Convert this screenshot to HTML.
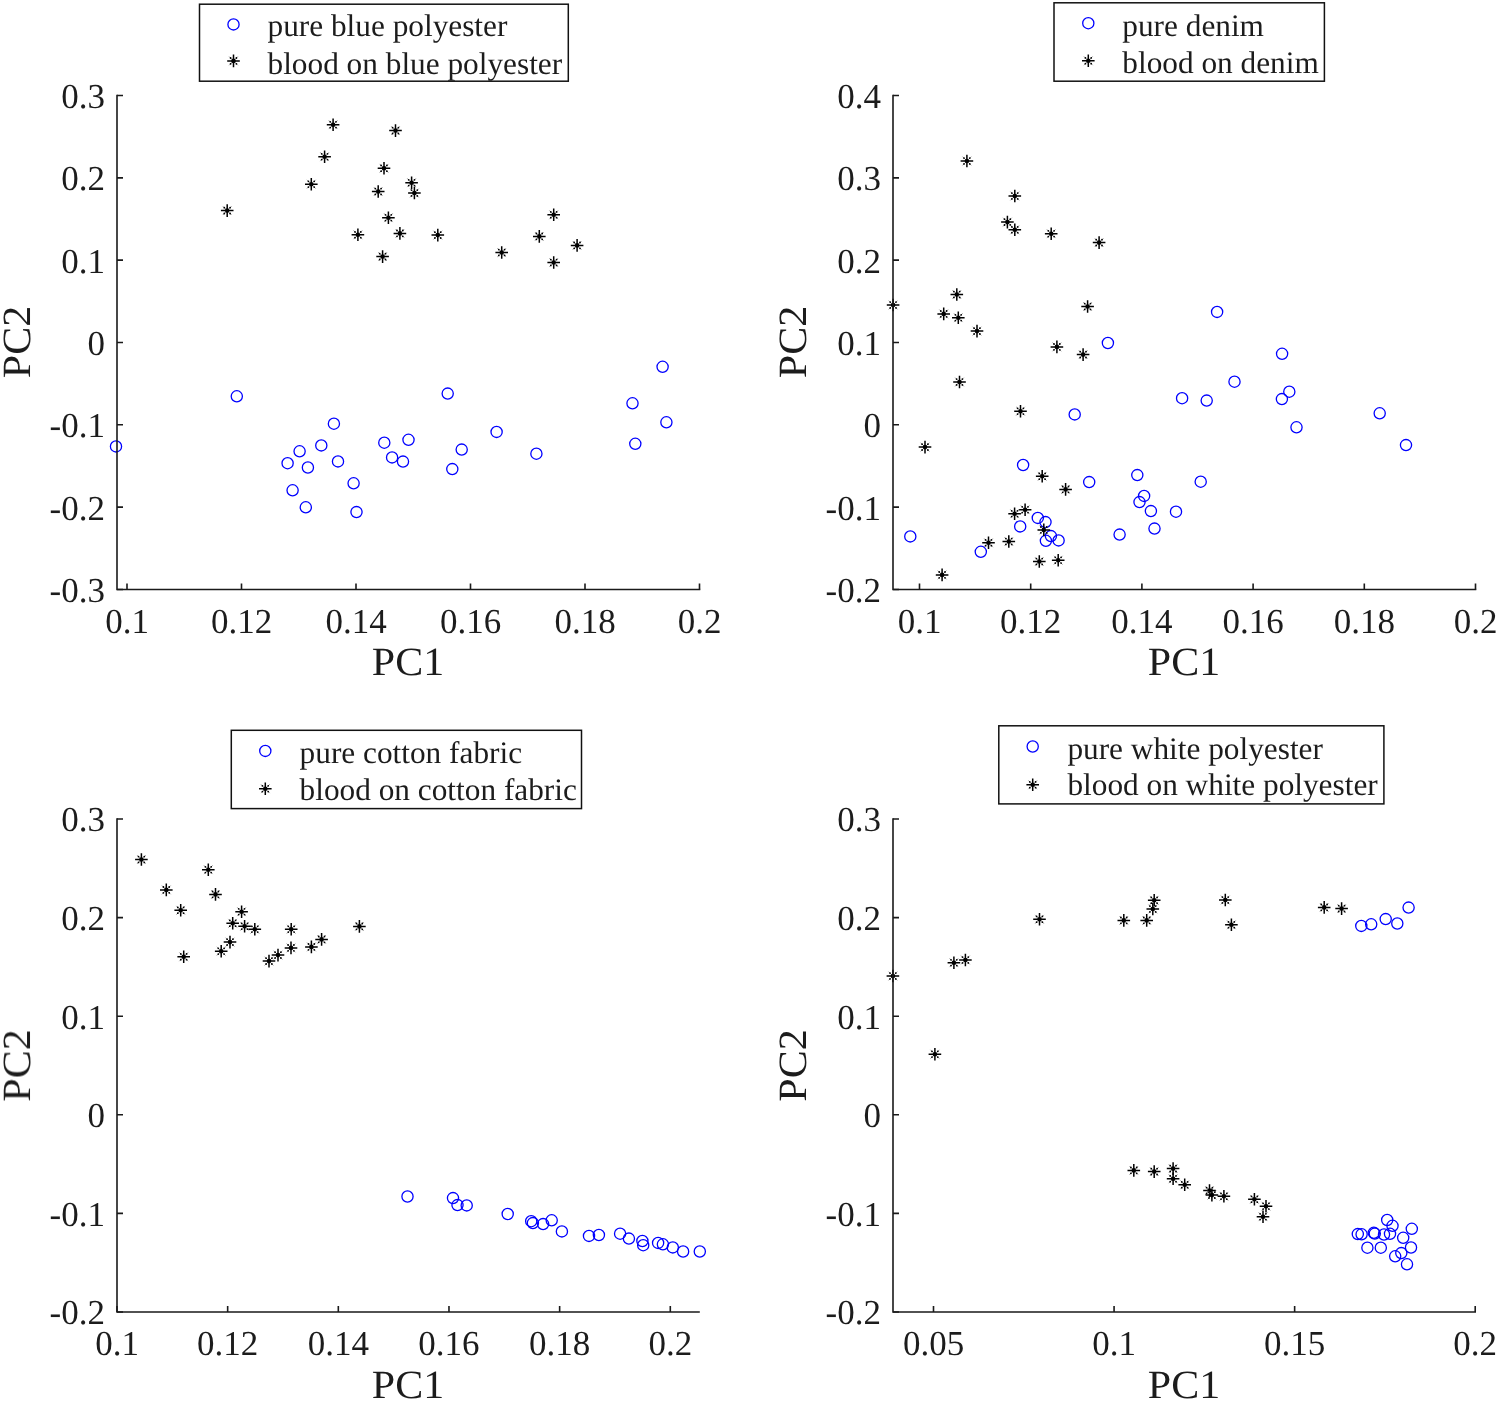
<!DOCTYPE html><html><head><meta charset="utf-8"><title>PCA scatter plots</title><style>html,body{margin:0;padding:0;background:#fff;width:1498px;height:1402px;overflow:hidden}svg{display:block}text{font-family:'Liberation Serif', serif;fill:#1c1c1c;text-rendering:geometricPrecision} .tx{filter:grayscale(1)}.t{font-size:35px} .l{font-size:42px} .g{font-size:31.3px}.ax{stroke:#1a1a1a;stroke-width:1.6;fill:none;stroke-linecap:square}.tk{stroke:#1a1a1a;stroke-width:1.6;fill:none}.c{fill:none;stroke:#0000ff;stroke-width:1.3}.sp{stroke:#000;stroke-width:1.5;fill:none}.sd{stroke:#8a8a8a;stroke-width:0.8;fill:none}.sq{stroke:#000;stroke-width:1.8;fill:none;stroke-linecap:round}.lb{fill:#fff;stroke:#111;stroke-width:1.5}</style></head><body>
<svg width="1498" height="1402" viewBox="0 0 1498 1402">
<rect width="1498" height="1402" fill="#fff"/>
<circle cx="236.80" cy="396.30" r="5.6" class="c"/><circle cx="116.00" cy="446.40" r="5.6" class="c"/><circle cx="333.90" cy="423.70" r="5.6" class="c"/><circle cx="321.30" cy="445.40" r="5.6" class="c"/><circle cx="299.60" cy="451.30" r="5.6" class="c"/><circle cx="287.60" cy="463.20" r="5.6" class="c"/><circle cx="307.90" cy="467.50" r="5.6" class="c"/><circle cx="338.00" cy="461.40" r="5.6" class="c"/><circle cx="292.60" cy="490.30" r="5.6" class="c"/><circle cx="353.60" cy="483.30" r="5.6" class="c"/><circle cx="305.80" cy="507.30" r="5.6" class="c"/><circle cx="356.50" cy="512.10" r="5.6" class="c"/><circle cx="384.30" cy="442.70" r="5.6" class="c"/><circle cx="408.50" cy="439.80" r="5.6" class="c"/><circle cx="392.10" cy="457.40" r="5.6" class="c"/><circle cx="403.00" cy="461.60" r="5.6" class="c"/><circle cx="447.70" cy="393.60" r="5.6" class="c"/><circle cx="496.60" cy="431.90" r="5.6" class="c"/><circle cx="461.70" cy="449.60" r="5.6" class="c"/><circle cx="452.30" cy="469.10" r="5.6" class="c"/><circle cx="536.40" cy="453.70" r="5.6" class="c"/><circle cx="662.60" cy="366.80" r="5.6" class="c"/><circle cx="632.50" cy="403.30" r="5.6" class="c"/><circle cx="666.40" cy="422.30" r="5.6" class="c"/><circle cx="635.30" cy="443.80" r="5.6" class="c"/><path d="M326.80 124.70H339.40M333.10 118.40V131.00" class="sp"/><path d="M328.70 120.30L331.70 123.30M334.50 126.10L337.50 129.10M328.70 129.10L331.70 126.10M334.50 123.30L337.50 120.30" class="sd"/><path d="M330.20 121.80h0M336.00 127.60h0M330.20 127.60h0M336.00 121.80h0" class="sq"/><circle cx="333.10" cy="124.70" r="2.3" fill="#000"/><path d="M389.20 130.60H401.80M395.50 124.30V136.90" class="sp"/><path d="M391.10 126.20L394.10 129.20M396.90 132.00L399.90 135.00M391.10 135.00L394.10 132.00M396.90 129.20L399.90 126.20" class="sd"/><path d="M392.60 127.70h0M398.40 133.50h0M392.60 133.50h0M398.40 127.70h0" class="sq"/><circle cx="395.50" cy="130.60" r="2.3" fill="#000"/><path d="M318.30 156.70H330.90M324.60 150.40V163.00" class="sp"/><path d="M320.20 152.30L323.20 155.30M326.00 158.10L329.00 161.10M320.20 161.10L323.20 158.10M326.00 155.30L329.00 152.30" class="sd"/><path d="M321.70 153.80h0M327.50 159.60h0M321.70 159.60h0M327.50 153.80h0" class="sq"/><circle cx="324.60" cy="156.70" r="2.3" fill="#000"/><path d="M377.70 168.30H390.30M384.00 162.00V174.60" class="sp"/><path d="M379.60 163.90L382.60 166.90M385.40 169.70L388.40 172.70M379.60 172.70L382.60 169.70M385.40 166.90L388.40 163.90" class="sd"/><path d="M381.10 165.40h0M386.90 171.20h0M381.10 171.20h0M386.90 165.40h0" class="sq"/><circle cx="384.00" cy="168.30" r="2.3" fill="#000"/><path d="M305.00 184.20H317.60M311.30 177.90V190.50" class="sp"/><path d="M306.90 179.80L309.90 182.80M312.70 185.60L315.70 188.60M306.90 188.60L309.90 185.60M312.70 182.80L315.70 179.80" class="sd"/><path d="M308.40 181.30h0M314.20 187.10h0M308.40 187.10h0M314.20 181.30h0" class="sq"/><circle cx="311.30" cy="184.20" r="2.3" fill="#000"/><path d="M405.30 182.70H417.90M411.60 176.40V189.00" class="sp"/><path d="M407.20 178.30L410.20 181.30M413.00 184.10L416.00 187.10M407.20 187.10L410.20 184.10M413.00 181.30L416.00 178.30" class="sd"/><path d="M408.70 179.80h0M414.50 185.60h0M408.70 185.60h0M414.50 179.80h0" class="sq"/><circle cx="411.60" cy="182.70" r="2.3" fill="#000"/><path d="M371.90 191.50H384.50M378.20 185.20V197.80" class="sp"/><path d="M373.80 187.10L376.80 190.10M379.60 192.90L382.60 195.90M373.80 195.90L376.80 192.90M379.60 190.10L382.60 187.10" class="sd"/><path d="M375.30 188.60h0M381.10 194.40h0M375.30 194.40h0M381.10 188.60h0" class="sq"/><circle cx="378.20" cy="191.50" r="2.3" fill="#000"/><path d="M408.10 193.00H420.70M414.40 186.70V199.30" class="sp"/><path d="M410.00 188.60L413.00 191.60M415.80 194.40L418.80 197.40M410.00 197.40L413.00 194.40M415.80 191.60L418.80 188.60" class="sd"/><path d="M411.50 190.10h0M417.30 195.90h0M411.50 195.90h0M417.30 190.10h0" class="sq"/><circle cx="414.40" cy="193.00" r="2.3" fill="#000"/><path d="M220.90 210.60H233.50M227.20 204.30V216.90" class="sp"/><path d="M222.80 206.20L225.80 209.20M228.60 212.00L231.60 215.00M222.80 215.00L225.80 212.00M228.60 209.20L231.60 206.20" class="sd"/><path d="M224.30 207.70h0M230.10 213.50h0M224.30 213.50h0M230.10 207.70h0" class="sq"/><circle cx="227.20" cy="210.60" r="2.3" fill="#000"/><path d="M382.10 217.70H394.70M388.40 211.40V224.00" class="sp"/><path d="M384.00 213.30L387.00 216.30M389.80 219.10L392.80 222.10M384.00 222.10L387.00 219.10M389.80 216.30L392.80 213.30" class="sd"/><path d="M385.50 214.80h0M391.30 220.60h0M385.50 220.60h0M391.30 214.80h0" class="sq"/><circle cx="388.40" cy="217.70" r="2.3" fill="#000"/><path d="M351.60 234.80H364.20M357.90 228.50V241.10" class="sp"/><path d="M353.50 230.40L356.50 233.40M359.30 236.20L362.30 239.20M353.50 239.20L356.50 236.20M359.30 233.40L362.30 230.40" class="sd"/><path d="M355.00 231.90h0M360.80 237.70h0M355.00 237.70h0M360.80 231.90h0" class="sq"/><circle cx="357.90" cy="234.80" r="2.3" fill="#000"/><path d="M393.60 233.40H406.20M399.90 227.10V239.70" class="sp"/><path d="M395.50 229.00L398.50 232.00M401.30 234.80L404.30 237.80M395.50 237.80L398.50 234.80M401.30 232.00L404.30 229.00" class="sd"/><path d="M397.00 230.50h0M402.80 236.30h0M397.00 236.30h0M402.80 230.50h0" class="sq"/><circle cx="399.90" cy="233.40" r="2.3" fill="#000"/><path d="M376.30 256.60H388.90M382.60 250.30V262.90" class="sp"/><path d="M378.20 252.20L381.20 255.20M384.00 258.00L387.00 261.00M378.20 261.00L381.20 258.00M384.00 255.20L387.00 252.20" class="sd"/><path d="M379.70 253.70h0M385.50 259.50h0M379.70 259.50h0M385.50 253.70h0" class="sq"/><circle cx="382.60" cy="256.60" r="2.3" fill="#000"/><path d="M431.50 235.10H444.10M437.80 228.80V241.40" class="sp"/><path d="M433.40 230.70L436.40 233.70M439.20 236.50L442.20 239.50M433.40 239.50L436.40 236.50M439.20 233.70L442.20 230.70" class="sd"/><path d="M434.90 232.20h0M440.70 238.00h0M434.90 238.00h0M440.70 232.20h0" class="sq"/><circle cx="437.80" cy="235.10" r="2.3" fill="#000"/><path d="M495.40 252.50H508.00M501.70 246.20V258.80" class="sp"/><path d="M497.30 248.10L500.30 251.10M503.10 253.90L506.10 256.90M497.30 256.90L500.30 253.90M503.10 251.10L506.10 248.10" class="sd"/><path d="M498.80 249.60h0M504.60 255.40h0M498.80 255.40h0M504.60 249.60h0" class="sq"/><circle cx="501.70" cy="252.50" r="2.3" fill="#000"/><path d="M547.40 214.80H560.00M553.70 208.50V221.10" class="sp"/><path d="M549.30 210.40L552.30 213.40M555.10 216.20L558.10 219.20M549.30 219.20L552.30 216.20M555.10 213.40L558.10 210.40" class="sd"/><path d="M550.80 211.90h0M556.60 217.70h0M550.80 217.70h0M556.60 211.90h0" class="sq"/><circle cx="553.70" cy="214.80" r="2.3" fill="#000"/><path d="M533.00 236.40H545.60M539.30 230.10V242.70" class="sp"/><path d="M534.90 232.00L537.90 235.00M540.70 237.80L543.70 240.80M534.90 240.80L537.90 237.80M540.70 235.00L543.70 232.00" class="sd"/><path d="M536.40 233.50h0M542.20 239.30h0M536.40 239.30h0M542.20 233.50h0" class="sq"/><circle cx="539.30" cy="236.40" r="2.3" fill="#000"/><path d="M570.80 245.40H583.40M577.10 239.10V251.70" class="sp"/><path d="M572.70 241.00L575.70 244.00M578.50 246.80L581.50 249.80M572.70 249.80L575.70 246.80M578.50 244.00L581.50 241.00" class="sd"/><path d="M574.20 242.50h0M580.00 248.30h0M574.20 248.30h0M580.00 242.50h0" class="sq"/><circle cx="577.10" cy="245.40" r="2.3" fill="#000"/><path d="M547.40 262.50H560.00M553.70 256.20V268.80" class="sp"/><path d="M549.30 258.10L552.30 261.10M555.10 263.90L558.10 266.90M549.30 266.90L552.30 263.90M555.10 261.10L558.10 258.10" class="sd"/><path d="M550.80 259.60h0M556.60 265.40h0M550.80 265.40h0M556.60 259.60h0" class="sq"/><circle cx="553.70" cy="262.50" r="2.3" fill="#000"/>
<path class="ax" d="M117 95.5V589.5H699.5"/>
<path class="tk" d="M127.00 589.5V583.5M241.50 589.5V583.5M356.00 589.5V583.5M470.50 589.5V583.5M585.00 589.5V583.5M699.50 589.5V583.5M117 95.50H123.0M117 177.83H123.0M117 260.16H123.0M117 342.49H123.0M117 424.82H123.0M117 507.15H123.0M117 589.48H123.0"/>
<rect class="lb" x="199.5" y="4.2" width="368.80" height="77.00"/>
<circle cx="233.5" cy="24.4" r="5.6" class="c"/>
<path d="M227.20 60.90H239.80M233.50 54.60V67.20" class="sp"/><path d="M229.10 56.50L232.10 59.50M234.90 62.30L237.90 65.30M229.10 65.30L232.10 62.30M234.90 59.50L237.90 56.50" class="sd"/><path d="M230.60 58.00h0M236.40 63.80h0M230.60 63.80h0M236.40 58.00h0" class="sq"/><circle cx="233.50" cy="60.90" r="2.3" fill="#000"/>
<circle cx="1074.70" cy="414.40" r="5.6" class="c"/><circle cx="1217.10" cy="311.90" r="5.6" class="c"/><circle cx="1107.90" cy="343.00" r="5.6" class="c"/><circle cx="1282.10" cy="353.80" r="5.6" class="c"/><circle cx="1234.50" cy="381.70" r="5.6" class="c"/><circle cx="1182.10" cy="398.20" r="5.6" class="c"/><circle cx="1206.70" cy="400.60" r="5.6" class="c"/><circle cx="1289.30" cy="391.70" r="5.6" class="c"/><circle cx="1281.90" cy="399.10" r="5.6" class="c"/><circle cx="1296.50" cy="427.30" r="5.6" class="c"/><circle cx="1379.70" cy="413.30" r="5.6" class="c"/><circle cx="1406.00" cy="445.10" r="5.6" class="c"/><circle cx="1023.10" cy="465.00" r="5.6" class="c"/><circle cx="1037.80" cy="517.90" r="5.6" class="c"/><circle cx="1045.50" cy="522.10" r="5.6" class="c"/><circle cx="1020.20" cy="526.40" r="5.6" class="c"/><circle cx="1050.90" cy="536.10" r="5.6" class="c"/><circle cx="1045.90" cy="540.80" r="5.6" class="c"/><circle cx="1058.60" cy="540.40" r="5.6" class="c"/><circle cx="980.80" cy="551.80" r="5.6" class="c"/><circle cx="910.30" cy="536.40" r="5.6" class="c"/><circle cx="1089.20" cy="482.10" r="5.6" class="c"/><circle cx="1137.30" cy="475.10" r="5.6" class="c"/><circle cx="1200.70" cy="481.70" r="5.6" class="c"/><circle cx="1144.10" cy="495.90" r="5.6" class="c"/><circle cx="1139.50" cy="502.10" r="5.6" class="c"/><circle cx="1150.90" cy="511.10" r="5.6" class="c"/><circle cx="1176.00" cy="511.70" r="5.6" class="c"/><circle cx="1154.50" cy="528.60" r="5.6" class="c"/><circle cx="1119.60" cy="534.60" r="5.6" class="c"/><path d="M960.60 161.00H973.20M966.90 154.70V167.30" class="sp"/><path d="M962.50 156.60L965.50 159.60M968.30 162.40L971.30 165.40M962.50 165.40L965.50 162.40M968.30 159.60L971.30 156.60" class="sd"/><path d="M964.00 158.10h0M969.80 163.90h0M964.00 163.90h0M969.80 158.10h0" class="sq"/><circle cx="966.90" cy="161.00" r="2.3" fill="#000"/><path d="M1008.50 196.00H1021.10M1014.80 189.70V202.30" class="sp"/><path d="M1010.40 191.60L1013.40 194.60M1016.20 197.40L1019.20 200.40M1010.40 200.40L1013.40 197.40M1016.20 194.60L1019.20 191.60" class="sd"/><path d="M1011.90 193.10h0M1017.70 198.90h0M1011.90 198.90h0M1017.70 193.10h0" class="sq"/><circle cx="1014.80" cy="196.00" r="2.3" fill="#000"/><path d="M1001.10 222.10H1013.70M1007.40 215.80V228.40" class="sp"/><path d="M1003.00 217.70L1006.00 220.70M1008.80 223.50L1011.80 226.50M1003.00 226.50L1006.00 223.50M1008.80 220.70L1011.80 217.70" class="sd"/><path d="M1004.50 219.20h0M1010.30 225.00h0M1004.50 225.00h0M1010.30 219.20h0" class="sq"/><circle cx="1007.40" cy="222.10" r="2.3" fill="#000"/><path d="M1008.50 229.80H1021.10M1014.80 223.50V236.10" class="sp"/><path d="M1010.40 225.40L1013.40 228.40M1016.20 231.20L1019.20 234.20M1010.40 234.20L1013.40 231.20M1016.20 228.40L1019.20 225.40" class="sd"/><path d="M1011.90 226.90h0M1017.70 232.70h0M1011.90 232.70h0M1017.70 226.90h0" class="sq"/><circle cx="1014.80" cy="229.80" r="2.3" fill="#000"/><path d="M1044.90 233.70H1057.50M1051.20 227.40V240.00" class="sp"/><path d="M1046.80 229.30L1049.80 232.30M1052.60 235.10L1055.60 238.10M1046.80 238.10L1049.80 235.10M1052.60 232.30L1055.60 229.30" class="sd"/><path d="M1048.30 230.80h0M1054.10 236.60h0M1048.30 236.60h0M1054.10 230.80h0" class="sq"/><circle cx="1051.20" cy="233.70" r="2.3" fill="#000"/><path d="M1092.80 242.60H1105.40M1099.10 236.30V248.90" class="sp"/><path d="M1094.70 238.20L1097.70 241.20M1100.50 244.00L1103.50 247.00M1094.70 247.00L1097.70 244.00M1100.50 241.20L1103.50 238.20" class="sd"/><path d="M1096.20 239.70h0M1102.00 245.50h0M1096.20 245.50h0M1102.00 239.70h0" class="sq"/><circle cx="1099.10" cy="242.60" r="2.3" fill="#000"/><path d="M950.50 294.50H963.10M956.80 288.20V300.80" class="sp"/><path d="M952.40 290.10L955.40 293.10M958.20 295.90L961.20 298.90M952.40 298.90L955.40 295.90M958.20 293.10L961.20 290.10" class="sd"/><path d="M953.90 291.60h0M959.70 297.40h0M953.90 297.40h0M959.70 291.60h0" class="sq"/><circle cx="956.80" cy="294.50" r="2.3" fill="#000"/><path d="M886.80 305.00H899.40M893.10 298.70V311.30" class="sp"/><path d="M888.70 300.60L891.70 303.60M894.50 306.40L897.50 309.40M888.70 309.40L891.70 306.40M894.50 303.60L897.50 300.60" class="sd"/><path d="M890.20 302.10h0M896.00 307.90h0M890.20 307.90h0M896.00 302.10h0" class="sq"/><circle cx="893.10" cy="305.00" r="2.3" fill="#000"/><path d="M937.40 313.90H950.00M943.70 307.60V320.20" class="sp"/><path d="M939.30 309.50L942.30 312.50M945.10 315.30L948.10 318.30M939.30 318.30L942.30 315.30M945.10 312.50L948.10 309.50" class="sd"/><path d="M940.80 311.00h0M946.60 316.80h0M940.80 316.80h0M946.60 311.00h0" class="sq"/><circle cx="943.70" cy="313.90" r="2.3" fill="#000"/><path d="M952.00 317.70H964.60M958.30 311.40V324.00" class="sp"/><path d="M953.90 313.30L956.90 316.30M959.70 319.10L962.70 322.10M953.90 322.10L956.90 319.10M959.70 316.30L962.70 313.30" class="sd"/><path d="M955.40 314.80h0M961.20 320.60h0M955.40 320.60h0M961.20 314.80h0" class="sq"/><circle cx="958.30" cy="317.70" r="2.3" fill="#000"/><path d="M970.70 331.10H983.30M977.00 324.80V337.40" class="sp"/><path d="M972.60 326.70L975.60 329.70M978.40 332.50L981.40 335.50M972.60 335.50L975.60 332.50M978.40 329.70L981.40 326.70" class="sd"/><path d="M974.10 328.20h0M979.90 334.00h0M974.10 334.00h0M979.90 328.20h0" class="sq"/><circle cx="977.00" cy="331.10" r="2.3" fill="#000"/><path d="M1081.30 306.50H1093.90M1087.60 300.20V312.80" class="sp"/><path d="M1083.20 302.10L1086.20 305.10M1089.00 307.90L1092.00 310.90M1083.20 310.90L1086.20 307.90M1089.00 305.10L1092.00 302.10" class="sd"/><path d="M1084.70 303.60h0M1090.50 309.40h0M1084.70 309.40h0M1090.50 303.60h0" class="sq"/><circle cx="1087.60" cy="306.50" r="2.3" fill="#000"/><path d="M1050.60 346.90H1063.20M1056.90 340.60V353.20" class="sp"/><path d="M1052.50 342.50L1055.50 345.50M1058.30 348.30L1061.30 351.30M1052.50 351.30L1055.50 348.30M1058.30 345.50L1061.30 342.50" class="sd"/><path d="M1054.00 344.00h0M1059.80 349.80h0M1054.00 349.80h0M1059.80 344.00h0" class="sq"/><circle cx="1056.90" cy="346.90" r="2.3" fill="#000"/><path d="M1076.80 354.60H1089.40M1083.10 348.30V360.90" class="sp"/><path d="M1078.70 350.20L1081.70 353.20M1084.50 356.00L1087.50 359.00M1078.70 359.00L1081.70 356.00M1084.50 353.20L1087.50 350.20" class="sd"/><path d="M1080.20 351.70h0M1086.00 357.50h0M1080.20 357.50h0M1086.00 351.70h0" class="sq"/><circle cx="1083.10" cy="354.60" r="2.3" fill="#000"/><path d="M953.20 382.00H965.80M959.50 375.70V388.30" class="sp"/><path d="M955.10 377.60L958.10 380.60M960.90 383.40L963.90 386.40M955.10 386.40L958.10 383.40M960.90 380.60L963.90 377.60" class="sd"/><path d="M956.60 379.10h0M962.40 384.90h0M956.60 384.90h0M962.40 379.10h0" class="sq"/><circle cx="959.50" cy="382.00" r="2.3" fill="#000"/><path d="M1014.20 411.20H1026.80M1020.50 404.90V417.50" class="sp"/><path d="M1016.10 406.80L1019.10 409.80M1021.90 412.60L1024.90 415.60M1016.10 415.60L1019.10 412.60M1021.90 409.80L1024.90 406.80" class="sd"/><path d="M1017.60 408.30h0M1023.40 414.10h0M1017.60 414.10h0M1023.40 408.30h0" class="sq"/><circle cx="1020.50" cy="411.20" r="2.3" fill="#000"/><path d="M918.70 447.10H931.30M925.00 440.80V453.40" class="sp"/><path d="M920.60 442.70L923.60 445.70M926.40 448.50L929.40 451.50M920.60 451.50L923.60 448.50M926.40 445.70L929.40 442.70" class="sd"/><path d="M922.10 444.20h0M927.90 450.00h0M922.10 450.00h0M927.90 444.20h0" class="sq"/><circle cx="925.00" cy="447.10" r="2.3" fill="#000"/><path d="M1035.90 476.30H1048.50M1042.20 470.00V482.60" class="sp"/><path d="M1037.80 471.90L1040.80 474.90M1043.60 477.70L1046.60 480.70M1037.80 480.70L1040.80 477.70M1043.60 474.90L1046.60 471.90" class="sd"/><path d="M1039.30 473.40h0M1045.10 479.20h0M1039.30 479.20h0M1045.10 473.40h0" class="sq"/><circle cx="1042.20" cy="476.30" r="2.3" fill="#000"/><path d="M1059.30 489.40H1071.90M1065.60 483.10V495.70" class="sp"/><path d="M1061.20 485.00L1064.20 488.00M1067.00 490.80L1070.00 493.80M1061.20 493.80L1064.20 490.80M1067.00 488.00L1070.00 485.00" class="sd"/><path d="M1062.70 486.50h0M1068.50 492.30h0M1062.70 492.30h0M1068.50 486.50h0" class="sq"/><circle cx="1065.60" cy="489.40" r="2.3" fill="#000"/><path d="M1018.80 509.70H1031.40M1025.10 503.40V516.00" class="sp"/><path d="M1020.70 505.30L1023.70 508.30M1026.50 511.10L1029.50 514.10M1020.70 514.10L1023.70 511.10M1026.50 508.30L1029.50 505.30" class="sd"/><path d="M1022.20 506.80h0M1028.00 512.60h0M1022.20 512.60h0M1028.00 506.80h0" class="sq"/><circle cx="1025.10" cy="509.70" r="2.3" fill="#000"/><path d="M1008.30 513.70H1020.90M1014.60 507.40V520.00" class="sp"/><path d="M1010.20 509.30L1013.20 512.30M1016.00 515.10L1019.00 518.10M1010.20 518.10L1013.20 515.10M1016.00 512.30L1019.00 509.30" class="sd"/><path d="M1011.70 510.80h0M1017.50 516.60h0M1011.70 516.60h0M1017.50 510.80h0" class="sq"/><circle cx="1014.60" cy="513.70" r="2.3" fill="#000"/><path d="M1037.50 529.90H1050.10M1043.80 523.60V536.20" class="sp"/><path d="M1039.40 525.50L1042.40 528.50M1045.20 531.30L1048.20 534.30M1039.40 534.30L1042.40 531.30M1045.20 528.50L1048.20 525.50" class="sd"/><path d="M1040.90 527.00h0M1046.70 532.80h0M1040.90 532.80h0M1046.70 527.00h0" class="sq"/><circle cx="1043.80" cy="529.90" r="2.3" fill="#000"/><path d="M982.20 542.80H994.80M988.50 536.50V549.10" class="sp"/><path d="M984.10 538.40L987.10 541.40M989.90 544.20L992.90 547.20M984.10 547.20L987.10 544.20M989.90 541.40L992.90 538.40" class="sd"/><path d="M985.60 539.90h0M991.40 545.70h0M985.60 545.70h0M991.40 539.90h0" class="sq"/><circle cx="988.50" cy="542.80" r="2.3" fill="#000"/><path d="M1002.50 541.50H1015.10M1008.80 535.20V547.80" class="sp"/><path d="M1004.40 537.10L1007.40 540.10M1010.20 542.90L1013.20 545.90M1004.40 545.90L1007.40 542.90M1010.20 540.10L1013.20 537.10" class="sd"/><path d="M1005.90 538.60h0M1011.70 544.40h0M1005.90 544.40h0M1011.70 538.60h0" class="sq"/><circle cx="1008.80" cy="541.50" r="2.3" fill="#000"/><path d="M1033.00 561.50H1045.60M1039.30 555.20V567.80" class="sp"/><path d="M1034.90 557.10L1037.90 560.10M1040.70 562.90L1043.70 565.90M1034.90 565.90L1037.90 562.90M1040.70 560.10L1043.70 557.10" class="sd"/><path d="M1036.40 558.60h0M1042.20 564.40h0M1036.40 564.40h0M1042.20 558.60h0" class="sq"/><circle cx="1039.30" cy="561.50" r="2.3" fill="#000"/><path d="M1051.90 560.20H1064.50M1058.20 553.90V566.50" class="sp"/><path d="M1053.80 555.80L1056.80 558.80M1059.60 561.60L1062.60 564.60M1053.80 564.60L1056.80 561.60M1059.60 558.80L1062.60 555.80" class="sd"/><path d="M1055.30 557.30h0M1061.10 563.10h0M1055.30 563.10h0M1061.10 557.30h0" class="sq"/><circle cx="1058.20" cy="560.20" r="2.3" fill="#000"/><path d="M935.80 574.90H948.40M942.10 568.60V581.20" class="sp"/><path d="M937.70 570.50L940.70 573.50M943.50 576.30L946.50 579.30M937.70 579.30L940.70 576.30M943.50 573.50L946.50 570.50" class="sd"/><path d="M939.20 572.00h0M945.00 577.80h0M939.20 577.80h0M945.00 572.00h0" class="sq"/><circle cx="942.10" cy="574.90" r="2.3" fill="#000"/>
<path class="ax" d="M893 95.5V589.5H1475.5"/>
<path class="tk" d="M919.50 589.5V583.5M1030.70 589.5V583.5M1141.90 589.5V583.5M1253.10 589.5V583.5M1364.30 589.5V583.5M1475.50 589.5V583.5M893 95.50H899.0M893 177.83H899.0M893 260.16H899.0M893 342.49H899.0M893 424.82H899.0M893 507.15H899.0M893 589.48H899.0"/>
<rect class="lb" x="1054" y="2.8" width="270.40" height="78.40"/>
<circle cx="1088.3" cy="23.2" r="5.6" class="c"/>
<path d="M1082.00 60.80H1094.60M1088.30 54.50V67.10" class="sp"/><path d="M1083.90 56.40L1086.90 59.40M1089.70 62.20L1092.70 65.20M1083.90 65.20L1086.90 62.20M1089.70 59.40L1092.70 56.40" class="sd"/><path d="M1085.40 57.90h0M1091.20 63.70h0M1085.40 63.70h0M1091.20 57.90h0" class="sq"/><circle cx="1088.30" cy="60.80" r="2.3" fill="#000"/>
<circle cx="407.50" cy="1196.50" r="5.6" class="c"/><circle cx="453.00" cy="1198.10" r="5.6" class="c"/><circle cx="457.50" cy="1205.10" r="5.6" class="c"/><circle cx="466.70" cy="1205.40" r="5.6" class="c"/><circle cx="507.70" cy="1214.00" r="5.6" class="c"/><circle cx="531.20" cy="1221.20" r="5.6" class="c"/><circle cx="532.90" cy="1223.10" r="5.6" class="c"/><circle cx="543.10" cy="1224.10" r="5.6" class="c"/><circle cx="551.70" cy="1220.30" r="5.6" class="c"/><circle cx="561.90" cy="1231.40" r="5.6" class="c"/><circle cx="589.00" cy="1235.90" r="5.6" class="c"/><circle cx="598.90" cy="1235.00" r="5.6" class="c"/><circle cx="620.10" cy="1233.70" r="5.6" class="c"/><circle cx="628.90" cy="1238.60" r="5.6" class="c"/><circle cx="642.40" cy="1241.00" r="5.6" class="c"/><circle cx="643.20" cy="1245.20" r="5.6" class="c"/><circle cx="658.10" cy="1242.90" r="5.6" class="c"/><circle cx="662.90" cy="1244.30" r="5.6" class="c"/><circle cx="672.80" cy="1247.40" r="5.6" class="c"/><circle cx="683.10" cy="1251.50" r="5.6" class="c"/><circle cx="699.80" cy="1251.50" r="5.6" class="c"/><path d="M135.10 859.50H147.70M141.40 853.20V865.80" class="sp"/><path d="M137.00 855.10L140.00 858.10M142.80 860.90L145.80 863.90M137.00 863.90L140.00 860.90M142.80 858.10L145.80 855.10" class="sd"/><path d="M138.50 856.60h0M144.30 862.40h0M138.50 862.40h0M144.30 856.60h0" class="sq"/><circle cx="141.40" cy="859.50" r="2.3" fill="#000"/><path d="M202.00 869.70H214.60M208.30 863.40V876.00" class="sp"/><path d="M203.90 865.30L206.90 868.30M209.70 871.10L212.70 874.10M203.90 874.10L206.90 871.10M209.70 868.30L212.70 865.30" class="sd"/><path d="M205.40 866.80h0M211.20 872.60h0M205.40 872.60h0M211.20 866.80h0" class="sq"/><circle cx="208.30" cy="869.70" r="2.3" fill="#000"/><path d="M160.00 889.90H172.60M166.30 883.60V896.20" class="sp"/><path d="M161.90 885.50L164.90 888.50M167.70 891.30L170.70 894.30M161.90 894.30L164.90 891.30M167.70 888.50L170.70 885.50" class="sd"/><path d="M163.40 887.00h0M169.20 892.80h0M163.40 892.80h0M169.20 887.00h0" class="sq"/><circle cx="166.30" cy="889.90" r="2.3" fill="#000"/><path d="M209.20 894.40H221.80M215.50 888.10V900.70" class="sp"/><path d="M211.10 890.00L214.10 893.00M216.90 895.80L219.90 898.80M211.10 898.80L214.10 895.80M216.90 893.00L219.90 890.00" class="sd"/><path d="M212.60 891.50h0M218.40 897.30h0M212.60 897.30h0M218.40 891.50h0" class="sq"/><circle cx="215.50" cy="894.40" r="2.3" fill="#000"/><path d="M174.40 910.30H187.00M180.70 904.00V916.60" class="sp"/><path d="M176.30 905.90L179.30 908.90M182.10 911.70L185.10 914.70M176.30 914.70L179.30 911.70M182.10 908.90L185.10 905.90" class="sd"/><path d="M177.80 907.40h0M183.60 913.20h0M177.80 913.20h0M183.60 907.40h0" class="sq"/><circle cx="180.70" cy="910.30" r="2.3" fill="#000"/><path d="M235.30 911.70H247.90M241.60 905.40V918.00" class="sp"/><path d="M237.20 907.30L240.20 910.30M243.00 913.10L246.00 916.10M237.20 916.10L240.20 913.10M243.00 910.30L246.00 907.30" class="sd"/><path d="M238.70 908.80h0M244.50 914.60h0M238.70 914.60h0M244.50 908.80h0" class="sq"/><circle cx="241.60" cy="911.70" r="2.3" fill="#000"/><path d="M226.40 923.30H239.00M232.70 917.00V929.60" class="sp"/><path d="M228.30 918.90L231.30 921.90M234.10 924.70L237.10 927.70M228.30 927.70L231.30 924.70M234.10 921.90L237.10 918.90" class="sd"/><path d="M229.80 920.40h0M235.60 926.20h0M229.80 926.20h0M235.60 920.40h0" class="sq"/><circle cx="232.70" cy="923.30" r="2.3" fill="#000"/><path d="M238.30 926.30H250.90M244.60 920.00V932.60" class="sp"/><path d="M240.20 921.90L243.20 924.90M246.00 927.70L249.00 930.70M240.20 930.70L243.20 927.70M246.00 924.90L249.00 921.90" class="sd"/><path d="M241.70 923.40h0M247.50 929.20h0M241.70 929.20h0M247.50 923.40h0" class="sq"/><circle cx="244.60" cy="926.30" r="2.3" fill="#000"/><path d="M248.50 929.20H261.10M254.80 922.90V935.50" class="sp"/><path d="M250.40 924.80L253.40 927.80M256.20 930.60L259.20 933.60M250.40 933.60L253.40 930.60M256.20 927.80L259.20 924.80" class="sd"/><path d="M251.90 926.30h0M257.70 932.10h0M251.90 932.10h0M257.70 926.30h0" class="sq"/><circle cx="254.80" cy="929.20" r="2.3" fill="#000"/><path d="M284.90 929.20H297.50M291.20 922.90V935.50" class="sp"/><path d="M286.80 924.80L289.80 927.80M292.60 930.60L295.60 933.60M286.80 933.60L289.80 930.60M292.60 927.80L295.60 924.80" class="sd"/><path d="M288.30 926.30h0M294.10 932.10h0M288.30 932.10h0M294.10 926.30h0" class="sq"/><circle cx="291.20" cy="929.20" r="2.3" fill="#000"/><path d="M223.70 942.10H236.30M230.00 935.80V948.40" class="sp"/><path d="M225.60 937.70L228.60 940.70M231.40 943.50L234.40 946.50M225.60 946.50L228.60 943.50M231.40 940.70L234.40 937.70" class="sd"/><path d="M227.10 939.20h0M232.90 945.00h0M227.10 945.00h0M232.90 939.20h0" class="sq"/><circle cx="230.00" cy="942.10" r="2.3" fill="#000"/><path d="M214.90 951.20H227.50M221.20 944.90V957.50" class="sp"/><path d="M216.80 946.80L219.80 949.80M222.60 952.60L225.60 955.60M216.80 955.60L219.80 952.60M222.60 949.80L225.60 946.80" class="sd"/><path d="M218.30 948.30h0M224.10 954.10h0M218.30 954.10h0M224.10 948.30h0" class="sq"/><circle cx="221.20" cy="951.20" r="2.3" fill="#000"/><path d="M284.70 947.90H297.30M291.00 941.60V954.20" class="sp"/><path d="M286.60 943.50L289.60 946.50M292.40 949.30L295.40 952.30M286.60 952.30L289.60 949.30M292.40 946.50L295.40 943.50" class="sd"/><path d="M288.10 945.00h0M293.90 950.80h0M288.10 950.80h0M293.90 945.00h0" class="sq"/><circle cx="291.00" cy="947.90" r="2.3" fill="#000"/><path d="M271.70 955.10H284.30M278.00 948.80V961.40" class="sp"/><path d="M273.60 950.70L276.60 953.70M279.40 956.50L282.40 959.50M273.60 959.50L276.60 956.50M279.40 953.70L282.40 950.70" class="sd"/><path d="M275.10 952.20h0M280.90 958.00h0M275.10 958.00h0M280.90 952.20h0" class="sq"/><circle cx="278.00" cy="955.10" r="2.3" fill="#000"/><path d="M262.70 961.10H275.30M269.00 954.80V967.40" class="sp"/><path d="M264.60 956.70L267.60 959.70M270.40 962.50L273.40 965.50M264.60 965.50L267.60 962.50M270.40 959.70L273.40 956.70" class="sd"/><path d="M266.10 958.20h0M271.90 964.00h0M266.10 964.00h0M271.90 958.20h0" class="sq"/><circle cx="269.00" cy="961.10" r="2.3" fill="#000"/><path d="M177.40 956.80H190.00M183.70 950.50V963.10" class="sp"/><path d="M179.30 952.40L182.30 955.40M185.10 958.20L188.10 961.20M179.30 961.20L182.30 958.20M185.10 955.40L188.10 952.40" class="sd"/><path d="M180.80 953.90h0M186.60 959.70h0M180.80 959.70h0M186.60 953.90h0" class="sq"/><circle cx="183.70" cy="956.80" r="2.3" fill="#000"/><path d="M305.10 946.90H317.70M311.40 940.60V953.20" class="sp"/><path d="M307.00 942.50L310.00 945.50M312.80 948.30L315.80 951.30M307.00 951.30L310.00 948.30M312.80 945.50L315.80 942.50" class="sd"/><path d="M308.50 944.00h0M314.30 949.80h0M308.50 949.80h0M314.30 944.00h0" class="sq"/><circle cx="311.40" cy="946.90" r="2.3" fill="#000"/><path d="M315.30 939.40H327.90M321.60 933.10V945.70" class="sp"/><path d="M317.20 935.00L320.20 938.00M323.00 940.80L326.00 943.80M317.20 943.80L320.20 940.80M323.00 938.00L326.00 935.00" class="sd"/><path d="M318.70 936.50h0M324.50 942.30h0M318.70 942.30h0M324.50 936.50h0" class="sq"/><circle cx="321.60" cy="939.40" r="2.3" fill="#000"/><path d="M353.10 926.40H365.70M359.40 920.10V932.70" class="sp"/><path d="M355.00 922.00L358.00 925.00M360.80 927.80L363.80 930.80M355.00 930.80L358.00 927.80M360.80 925.00L363.80 922.00" class="sd"/><path d="M356.50 923.50h0M362.30 929.30h0M356.50 929.30h0M362.30 923.50h0" class="sq"/><circle cx="359.40" cy="926.40" r="2.3" fill="#000"/>
<path class="ax" d="M117 819V1312H699"/>
<path class="tk" d="M117.00 1312V1306.0M227.66 1312V1306.0M338.32 1312V1306.0M448.98 1312V1306.0M559.64 1312V1306.0M670.30 1312V1306.0M117 819.00H123.0M117 917.60H123.0M117 1016.20H123.0M117 1114.80H123.0M117 1213.40H123.0M117 1312.00H123.0"/>
<rect class="lb" x="231.3" y="730.3" width="350.20" height="78.30"/>
<circle cx="265.3" cy="750.9" r="5.6" class="c"/>
<path d="M259.00 788.70H271.60M265.30 782.40V795.00" class="sp"/><path d="M260.90 784.30L263.90 787.30M266.70 790.10L269.70 793.10M260.90 793.10L263.90 790.10M266.70 787.30L269.70 784.30" class="sd"/><path d="M262.40 785.80h0M268.20 791.60h0M262.40 791.60h0M268.20 785.80h0" class="sq"/><circle cx="265.30" cy="788.70" r="2.3" fill="#000"/>
<circle cx="1361.30" cy="925.90" r="5.6" class="c"/><circle cx="1371.20" cy="924.30" r="5.6" class="c"/><circle cx="1385.70" cy="919.10" r="5.6" class="c"/><circle cx="1397.30" cy="923.50" r="5.6" class="c"/><circle cx="1408.60" cy="907.60" r="5.6" class="c"/><circle cx="1357.80" cy="1234.10" r="5.6" class="c"/><circle cx="1361.60" cy="1234.30" r="5.6" class="c"/><circle cx="1373.80" cy="1232.80" r="5.6" class="c"/><circle cx="1374.80" cy="1233.60" r="5.6" class="c"/><circle cx="1387.20" cy="1220.00" r="5.6" class="c"/><circle cx="1392.50" cy="1225.80" r="5.6" class="c"/><circle cx="1390.00" cy="1233.80" r="5.6" class="c"/><circle cx="1384.00" cy="1234.50" r="5.6" class="c"/><circle cx="1411.80" cy="1228.80" r="5.6" class="c"/><circle cx="1403.20" cy="1237.80" r="5.6" class="c"/><circle cx="1411.00" cy="1247.50" r="5.6" class="c"/><circle cx="1367.40" cy="1247.70" r="5.6" class="c"/><circle cx="1380.80" cy="1247.70" r="5.6" class="c"/><circle cx="1395.20" cy="1256.30" r="5.6" class="c"/><circle cx="1401.30" cy="1253.10" r="5.6" class="c"/><circle cx="1407.00" cy="1264.30" r="5.6" class="c"/><path d="M1033.20 919.30H1045.80M1039.50 913.00V925.60" class="sp"/><path d="M1035.10 914.90L1038.10 917.90M1040.90 920.70L1043.90 923.70M1035.10 923.70L1038.10 920.70M1040.90 917.90L1043.90 914.90" class="sd"/><path d="M1036.60 916.40h0M1042.40 922.20h0M1036.60 922.20h0M1042.40 916.40h0" class="sq"/><circle cx="1039.50" cy="919.30" r="2.3" fill="#000"/><path d="M947.60 962.70H960.20M953.90 956.40V969.00" class="sp"/><path d="M949.50 958.30L952.50 961.30M955.30 964.10L958.30 967.10M949.50 967.10L952.50 964.10M955.30 961.30L958.30 958.30" class="sd"/><path d="M951.00 959.80h0M956.80 965.60h0M951.00 965.60h0M956.80 959.80h0" class="sq"/><circle cx="953.90" cy="962.70" r="2.3" fill="#000"/><path d="M959.10 960.00H971.70M965.40 953.70V966.30" class="sp"/><path d="M961.00 955.60L964.00 958.60M966.80 961.40L969.80 964.40M961.00 964.40L964.00 961.40M966.80 958.60L969.80 955.60" class="sd"/><path d="M962.50 957.10h0M968.30 962.90h0M962.50 962.90h0M968.30 957.10h0" class="sq"/><circle cx="965.40" cy="960.00" r="2.3" fill="#000"/><path d="M886.60 976.00H899.20M892.90 969.70V982.30" class="sp"/><path d="M888.50 971.60L891.50 974.60M894.30 977.40L897.30 980.40M888.50 980.40L891.50 977.40M894.30 974.60L897.30 971.60" class="sd"/><path d="M890.00 973.10h0M895.80 978.90h0M890.00 978.90h0M895.80 973.10h0" class="sq"/><circle cx="892.90" cy="976.00" r="2.3" fill="#000"/><path d="M928.60 1054.20H941.20M934.90 1047.90V1060.50" class="sp"/><path d="M930.50 1049.80L933.50 1052.80M936.30 1055.60L939.30 1058.60M930.50 1058.60L933.50 1055.60M936.30 1052.80L939.30 1049.80" class="sd"/><path d="M932.00 1051.30h0M937.80 1057.10h0M932.00 1057.10h0M937.80 1051.30h0" class="sq"/><circle cx="934.90" cy="1054.20" r="2.3" fill="#000"/><path d="M1117.50 920.40H1130.10M1123.80 914.10V926.70" class="sp"/><path d="M1119.40 916.00L1122.40 919.00M1125.20 921.80L1128.20 924.80M1119.40 924.80L1122.40 921.80M1125.20 919.00L1128.20 916.00" class="sd"/><path d="M1120.90 917.50h0M1126.70 923.30h0M1120.90 923.30h0M1126.70 917.50h0" class="sq"/><circle cx="1123.80" cy="920.40" r="2.3" fill="#000"/><path d="M1140.40 920.40H1153.00M1146.70 914.10V926.70" class="sp"/><path d="M1142.30 916.00L1145.30 919.00M1148.10 921.80L1151.10 924.80M1142.30 924.80L1145.30 921.80M1148.10 919.00L1151.10 916.00" class="sd"/><path d="M1143.80 917.50h0M1149.60 923.30h0M1143.80 923.30h0M1149.60 917.50h0" class="sq"/><circle cx="1146.70" cy="920.40" r="2.3" fill="#000"/><path d="M1147.90 900.30H1160.50M1154.20 894.00V906.60" class="sp"/><path d="M1149.80 895.90L1152.80 898.90M1155.60 901.70L1158.60 904.70M1149.80 904.70L1152.80 901.70M1155.60 898.90L1158.60 895.90" class="sd"/><path d="M1151.30 897.40h0M1157.10 903.20h0M1151.30 903.20h0M1157.10 897.40h0" class="sq"/><circle cx="1154.20" cy="900.30" r="2.3" fill="#000"/><path d="M1146.50 909.00H1159.10M1152.80 902.70V915.30" class="sp"/><path d="M1148.40 904.60L1151.40 907.60M1154.20 910.40L1157.20 913.40M1148.40 913.40L1151.40 910.40M1154.20 907.60L1157.20 904.60" class="sd"/><path d="M1149.90 906.10h0M1155.70 911.90h0M1149.90 911.90h0M1155.70 906.10h0" class="sq"/><circle cx="1152.80" cy="909.00" r="2.3" fill="#000"/><path d="M1219.00 900.00H1231.60M1225.30 893.70V906.30" class="sp"/><path d="M1220.90 895.60L1223.90 898.60M1226.70 901.40L1229.70 904.40M1220.90 904.40L1223.90 901.40M1226.70 898.60L1229.70 895.60" class="sd"/><path d="M1222.40 897.10h0M1228.20 902.90h0M1222.40 902.90h0M1228.20 897.10h0" class="sq"/><circle cx="1225.30" cy="900.00" r="2.3" fill="#000"/><path d="M1225.10 924.80H1237.70M1231.40 918.50V931.10" class="sp"/><path d="M1227.00 920.40L1230.00 923.40M1232.80 926.20L1235.80 929.20M1227.00 929.20L1230.00 926.20M1232.80 923.40L1235.80 920.40" class="sd"/><path d="M1228.50 921.90h0M1234.30 927.70h0M1228.50 927.70h0M1234.30 921.90h0" class="sq"/><circle cx="1231.40" cy="924.80" r="2.3" fill="#000"/><path d="M1317.90 907.40H1330.50M1324.20 901.10V913.70" class="sp"/><path d="M1319.80 903.00L1322.80 906.00M1325.60 908.80L1328.60 911.80M1319.80 911.80L1322.80 908.80M1325.60 906.00L1328.60 903.00" class="sd"/><path d="M1321.30 904.50h0M1327.10 910.30h0M1321.30 910.30h0M1327.10 904.50h0" class="sq"/><circle cx="1324.20" cy="907.40" r="2.3" fill="#000"/><path d="M1335.30 908.60H1347.90M1341.60 902.30V914.90" class="sp"/><path d="M1337.20 904.20L1340.20 907.20M1343.00 910.00L1346.00 913.00M1337.20 913.00L1340.20 910.00M1343.00 907.20L1346.00 904.20" class="sd"/><path d="M1338.70 905.70h0M1344.50 911.50h0M1338.70 911.50h0M1344.50 905.70h0" class="sq"/><circle cx="1341.60" cy="908.60" r="2.3" fill="#000"/><path d="M1127.50 1170.40H1140.10M1133.80 1164.10V1176.70" class="sp"/><path d="M1129.40 1166.00L1132.40 1169.00M1135.20 1171.80L1138.20 1174.80M1129.40 1174.80L1132.40 1171.80M1135.20 1169.00L1138.20 1166.00" class="sd"/><path d="M1130.90 1167.50h0M1136.70 1173.30h0M1130.90 1173.30h0M1136.70 1167.50h0" class="sq"/><circle cx="1133.80" cy="1170.40" r="2.3" fill="#000"/><path d="M1147.90 1171.60H1160.50M1154.20 1165.30V1177.90" class="sp"/><path d="M1149.80 1167.20L1152.80 1170.20M1155.60 1173.00L1158.60 1176.00M1149.80 1176.00L1152.80 1173.00M1155.60 1170.20L1158.60 1167.20" class="sd"/><path d="M1151.30 1168.70h0M1157.10 1174.50h0M1151.30 1174.50h0M1157.10 1168.70h0" class="sq"/><circle cx="1154.20" cy="1171.60" r="2.3" fill="#000"/><path d="M1166.80 1168.60H1179.40M1173.10 1162.30V1174.90" class="sp"/><path d="M1168.70 1164.20L1171.70 1167.20M1174.50 1170.00L1177.50 1173.00M1168.70 1173.00L1171.70 1170.00M1174.50 1167.20L1177.50 1164.20" class="sd"/><path d="M1170.20 1165.70h0M1176.00 1171.50h0M1170.20 1171.50h0M1176.00 1165.70h0" class="sq"/><circle cx="1173.10" cy="1168.60" r="2.3" fill="#000"/><path d="M1166.80 1178.80H1179.40M1173.10 1172.50V1185.10" class="sp"/><path d="M1168.70 1174.40L1171.70 1177.40M1174.50 1180.20L1177.50 1183.20M1168.70 1183.20L1171.70 1180.20M1174.50 1177.40L1177.50 1174.40" class="sd"/><path d="M1170.20 1175.90h0M1176.00 1181.70h0M1170.20 1181.70h0M1176.00 1175.90h0" class="sq"/><circle cx="1173.10" cy="1178.80" r="2.3" fill="#000"/><path d="M1178.40 1184.80H1191.00M1184.70 1178.50V1191.10" class="sp"/><path d="M1180.30 1180.40L1183.30 1183.40M1186.10 1186.20L1189.10 1189.20M1180.30 1189.20L1183.30 1186.20M1186.10 1183.40L1189.10 1180.40" class="sd"/><path d="M1181.80 1181.90h0M1187.60 1187.70h0M1181.80 1187.70h0M1187.60 1181.90h0" class="sq"/><circle cx="1184.70" cy="1184.80" r="2.3" fill="#000"/><path d="M1203.20 1190.60H1215.80M1209.50 1184.30V1196.90" class="sp"/><path d="M1205.10 1186.20L1208.10 1189.20M1210.90 1192.00L1213.90 1195.00M1205.10 1195.00L1208.10 1192.00M1210.90 1189.20L1213.90 1186.20" class="sd"/><path d="M1206.60 1187.70h0M1212.40 1193.50h0M1206.60 1193.50h0M1212.40 1187.70h0" class="sq"/><circle cx="1209.50" cy="1190.60" r="2.3" fill="#000"/><path d="M1205.60 1195.10H1218.20M1211.90 1188.80V1201.40" class="sp"/><path d="M1207.50 1190.70L1210.50 1193.70M1213.30 1196.50L1216.30 1199.50M1207.50 1199.50L1210.50 1196.50M1213.30 1193.70L1216.30 1190.70" class="sd"/><path d="M1209.00 1192.20h0M1214.80 1198.00h0M1209.00 1198.00h0M1214.80 1192.20h0" class="sq"/><circle cx="1211.90" cy="1195.10" r="2.3" fill="#000"/><path d="M1217.60 1196.30H1230.20M1223.90 1190.00V1202.60" class="sp"/><path d="M1219.50 1191.90L1222.50 1194.90M1225.30 1197.70L1228.30 1200.70M1219.50 1200.70L1222.50 1197.70M1225.30 1194.90L1228.30 1191.90" class="sd"/><path d="M1221.00 1193.40h0M1226.80 1199.20h0M1221.00 1199.20h0M1226.80 1193.40h0" class="sq"/><circle cx="1223.90" cy="1196.30" r="2.3" fill="#000"/><path d="M1248.10 1199.30H1260.70M1254.40 1193.00V1205.60" class="sp"/><path d="M1250.00 1194.90L1253.00 1197.90M1255.80 1200.70L1258.80 1203.70M1250.00 1203.70L1253.00 1200.70M1255.80 1197.90L1258.80 1194.90" class="sd"/><path d="M1251.50 1196.40h0M1257.30 1202.20h0M1251.50 1202.20h0M1257.30 1196.40h0" class="sq"/><circle cx="1254.40" cy="1199.30" r="2.3" fill="#000"/><path d="M1259.70 1206.20H1272.30M1266.00 1199.90V1212.50" class="sp"/><path d="M1261.60 1201.80L1264.60 1204.80M1267.40 1207.60L1270.40 1210.60M1261.60 1210.60L1264.60 1207.60M1267.40 1204.80L1270.40 1201.80" class="sd"/><path d="M1263.10 1203.30h0M1268.90 1209.10h0M1263.10 1209.10h0M1268.90 1203.30h0" class="sq"/><circle cx="1266.00" cy="1206.20" r="2.3" fill="#000"/><path d="M1256.70 1216.70H1269.30M1263.00 1210.40V1223.00" class="sp"/><path d="M1258.60 1212.30L1261.60 1215.30M1264.40 1218.10L1267.40 1221.10M1258.60 1221.10L1261.60 1218.10M1264.40 1215.30L1267.40 1212.30" class="sd"/><path d="M1260.10 1213.80h0M1265.90 1219.60h0M1260.10 1219.60h0M1265.90 1213.80h0" class="sq"/><circle cx="1263.00" cy="1216.70" r="2.3" fill="#000"/>
<path class="ax" d="M893 819V1312H1475.2"/>
<path class="tk" d="M933.50 1312V1306.0M1114.07 1312V1306.0M1294.64 1312V1306.0M1475.21 1312V1306.0M893 819.00H899.0M893 917.60H899.0M893 1016.20H899.0M893 1114.80H899.0M893 1213.40H899.0M893 1312.00H899.0"/>
<rect class="lb" x="998.8" y="725.8" width="385.10" height="78.10"/>
<circle cx="1032.7" cy="746.5" r="5.6" class="c"/>
<path d="M1026.40 784.80H1039.00M1032.70 778.50V791.10" class="sp"/><path d="M1028.30 780.40L1031.30 783.40M1034.10 786.20L1037.10 789.20M1028.30 789.20L1031.30 786.20M1034.10 783.40L1037.10 780.40" class="sd"/><path d="M1029.80 781.90h0M1035.60 787.70h0M1029.80 787.70h0M1035.60 781.90h0" class="sq"/><circle cx="1032.70" cy="784.80" r="2.3" fill="#000"/>
<g class="tx"><text class="t" x="127.00" y="632.50" text-anchor="middle">0.1</text><text class="t" x="241.50" y="632.50" text-anchor="middle">0.12</text><text class="t" x="356.00" y="632.50" text-anchor="middle">0.14</text><text class="t" x="470.50" y="632.50" text-anchor="middle">0.16</text><text class="t" x="585.00" y="632.50" text-anchor="middle">0.18</text><text class="t" x="699.50" y="632.50" text-anchor="middle">0.2</text><text class="t" x="105.00" y="107.90" text-anchor="end">0.3</text><text class="t" x="105.00" y="190.23" text-anchor="end">0.2</text><text class="t" x="105.00" y="272.56" text-anchor="end">0.1</text><text class="t" x="105.00" y="354.89" text-anchor="end">0</text><text class="t" x="105.00" y="437.22" text-anchor="end">-0.1</text><text class="t" x="105.00" y="519.55" text-anchor="end">-0.2</text><text class="t" x="105.00" y="601.88" text-anchor="end">-0.3</text><text class="l" transform="translate(408 675.4) scale(1 0.955)" x="0" y="0" text-anchor="middle">PC1</text><text class="l" transform="translate(30.4 342) rotate(-90) scale(1 0.955)" x="0" y="0" text-anchor="middle">PC2</text><text class="g" x="267.5" y="36.10">pure blue polyester</text><text class="g" x="267.5" y="73.50">blood on blue polyester</text><text class="t" x="919.50" y="632.50" text-anchor="middle">0.1</text><text class="t" x="1030.70" y="632.50" text-anchor="middle">0.12</text><text class="t" x="1141.90" y="632.50" text-anchor="middle">0.14</text><text class="t" x="1253.10" y="632.50" text-anchor="middle">0.16</text><text class="t" x="1364.30" y="632.50" text-anchor="middle">0.18</text><text class="t" x="1475.50" y="632.50" text-anchor="middle">0.2</text><text class="t" x="881.00" y="107.90" text-anchor="end">0.4</text><text class="t" x="881.00" y="190.23" text-anchor="end">0.3</text><text class="t" x="881.00" y="272.56" text-anchor="end">0.2</text><text class="t" x="881.00" y="354.89" text-anchor="end">0.1</text><text class="t" x="881.00" y="437.22" text-anchor="end">0</text><text class="t" x="881.00" y="519.55" text-anchor="end">-0.1</text><text class="t" x="881.00" y="601.88" text-anchor="end">-0.2</text><text class="l" transform="translate(1184 675.4) scale(1 0.955)" x="0" y="0" text-anchor="middle">PC1</text><text class="l" transform="translate(805.8 342) rotate(-90) scale(1 0.955)" x="0" y="0" text-anchor="middle">PC2</text><text class="g" x="1122.3" y="36.10">pure denim</text><text class="g" x="1122.3" y="72.70">blood on denim</text><text class="t" x="117.00" y="1355.00" text-anchor="middle">0.1</text><text class="t" x="227.66" y="1355.00" text-anchor="middle">0.12</text><text class="t" x="338.32" y="1355.00" text-anchor="middle">0.14</text><text class="t" x="448.98" y="1355.00" text-anchor="middle">0.16</text><text class="t" x="559.64" y="1355.00" text-anchor="middle">0.18</text><text class="t" x="670.30" y="1355.00" text-anchor="middle">0.2</text><text class="t" x="105.00" y="831.40" text-anchor="end">0.3</text><text class="t" x="105.00" y="930.00" text-anchor="end">0.2</text><text class="t" x="105.00" y="1028.60" text-anchor="end">0.1</text><text class="t" x="105.00" y="1127.20" text-anchor="end">0</text><text class="t" x="105.00" y="1225.80" text-anchor="end">-0.1</text><text class="t" x="105.00" y="1324.40" text-anchor="end">-0.2</text><text class="l" transform="translate(408 1397.9) scale(1 0.955)" x="0" y="0" text-anchor="middle">PC1</text><text class="l" transform="translate(30.4 1065.5) rotate(-90) scale(1 0.955)" x="0" y="0" text-anchor="middle">PC2</text><text class="g" x="299.6" y="763.20">pure cotton fabric</text><text class="g" x="299.6" y="799.90">blood on cotton fabric</text><text class="t" x="933.50" y="1355.00" text-anchor="middle">0.05</text><text class="t" x="1114.07" y="1355.00" text-anchor="middle">0.1</text><text class="t" x="1294.64" y="1355.00" text-anchor="middle">0.15</text><text class="t" x="1475.21" y="1355.00" text-anchor="middle">0.2</text><text class="t" x="881.00" y="831.40" text-anchor="end">0.3</text><text class="t" x="881.00" y="930.00" text-anchor="end">0.2</text><text class="t" x="881.00" y="1028.60" text-anchor="end">0.1</text><text class="t" x="881.00" y="1127.20" text-anchor="end">0</text><text class="t" x="881.00" y="1225.80" text-anchor="end">-0.1</text><text class="t" x="881.00" y="1324.40" text-anchor="end">-0.2</text><text class="l" transform="translate(1184 1397.9) scale(1 0.955)" x="0" y="0" text-anchor="middle">PC1</text><text class="l" transform="translate(805.8 1065.5) rotate(-90) scale(1 0.955)" x="0" y="0" text-anchor="middle">PC2</text><text class="g" x="1067.4" y="758.90">pure white polyester</text><text class="g" x="1067.4" y="795.40">blood on white polyester</text></g>
</svg></body></html>
